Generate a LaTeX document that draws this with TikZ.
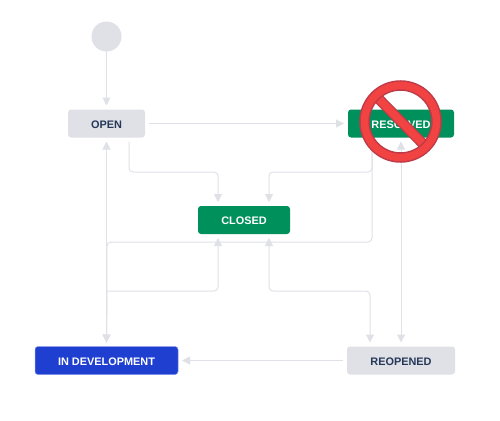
\documentclass[tikz,border=0pt]{standalone}
\usepackage{fontspec}
\setmainfont{Liberation Sans}
\usetikzlibrary{arrows.meta,calc}
\definecolor{lne}{HTML}{DFE1E6}
\definecolor{grn}{HTML}{00905C}
\definecolor{blu}{HTML}{1F3FD1}
\definecolor{ink}{HTML}{253858}
\definecolor{sred}{HTML}{F24343}
\definecolor{sdark}{HTML}{BE3A48}
\tikzset{
  x=1pt,y=-1pt,
  state/.style={rectangle,rounded corners=3pt,minimum height=28pt,outer sep=4pt,inner sep=0pt,text height=9.2pt,text depth=0pt,font=\fontsize{10.9}{12}\selectfont\bfseries,text=white},
  todo/.style={state,fill=lne,text=ink},
  done/.style={state,fill=grn},
  prog/.style={state,fill=blu,draw=blu!55!white,line width=0.5pt},
  conn/.style={draw=lne,line width=1pt,rounded corners=4pt,-{Triangle[length=8pt,width=8pt,color=lne]}},
  both/.style={conn,{Triangle[length=8pt,width=8pt,color=lne]}-{Triangle[length=8pt,width=8pt,color=lne]}},
}
\begin{document}
\begin{tikzpicture}
\useasboundingbox[fill=white] (0,0) rectangle (500,420);
\node[circle,fill=lne,minimum size=30pt,inner sep=0pt,outer sep=0pt] (start) at (106.5,36.5) {};
\node[todo,minimum width=77pt] (open) at (106.5,123.5) {OPEN};
\node[done,minimum width=106pt] (resolved) at (401,123.5) {RESOLVED};
\node[done,minimum width=92pt] (closed) at (244,220) {CLOSED};
\node[prog,minimum width=143pt] (dev) at (106.5,360.5) {IN DEVELOPMENT};
\node[todo,minimum width=108pt] (reopened) at (401,360.5) {REOPENED};
\coordinate (j1) at (107,291);
\coordinate (j2) at (107,242);
\draw[conn] (start) -- (open);
\draw[conn] (open.east) -- (resolved.west);
\draw[conn] ([xshift=22.5pt]open.south) |- (180,172) -| ([xshift=-26pt]closed.north);
\draw[conn] ([xshift=-29pt]resolved.south) |- (300,172) -| ([xshift=25pt]closed.north);
\draw[conn] (dev.north) -- (open.south);
\draw[conn] ([xshift=-29pt]resolved.south) |- (j2) -- (dev.north);
\draw[conn] (j1) -- (dev.north);
\draw[conn] (j1) -| ([xshift=-26pt]closed.south);
\draw[both] ([xshift=25pt]closed.south) |- (320,291) -| ([xshift=-31pt]reopened.north);
\draw[both] (resolved.south) -- (reopened.north);
\draw[conn] (reopened.west) -- (dev.east);
% prohibition sign
\begin{scope}
\clip (400.5,121.5) circle (35);
\draw[sdark,line width=10.5pt] (372,92) -- (429,150);
\draw[sred,line width=8pt] (372,92) -- (429,150);
\end{scope}
\draw[sdark,line width=10.5pt] (400.5,121.5) circle (36);
\draw[sred,line width=7.5pt] (400.5,121.5) circle (36);
\end{tikzpicture}
\end{document}
